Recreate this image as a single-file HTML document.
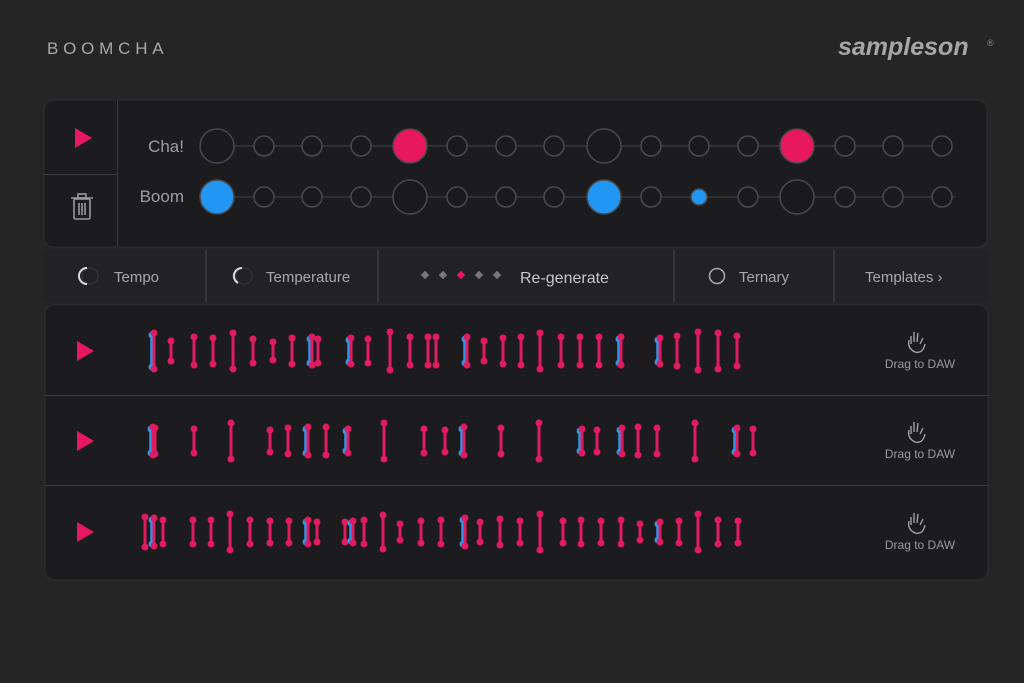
<!DOCTYPE html>
<html><head><meta charset="utf-8"><style>
html,body{margin:0;padding:0;background:#262526;width:1024px;height:683px;overflow:hidden}
svg{display:block}
text{font-family:"Liberation Sans",sans-serif}
</style></head><body>
<svg id="s" width="1024" height="683" xmlns="http://www.w3.org/2000/svg">
<rect width="1024" height="683" fill="#262526"/>
<text x="47" y="54" fill="#a8a8a8" font-size="17" letter-spacing="4.8">BOOMCHA</text>
<text x="838" y="55" fill="#a6a6a6" font-size="25" font-weight="bold" font-style="italic">sampleson</text>
<text x="987" y="46" fill="#888" font-size="9">®</text>
<!-- top panel -->
<rect x="44" y="100" width="943" height="147" rx="9" fill="#1c1c1e" stroke="#2e2e30"/>
<line x1="117.5" y1="100" x2="117.5" y2="247" stroke="#3a3a3c"/>
<line x1="44" y1="174.5" x2="117" y2="174.5" stroke="#3a3a3c"/>
<polygon points="75,128 92,138 75,148" fill="#e8185f"/>
<g stroke="#9a9a9a" stroke-width="1.6" fill="none">
<rect x="74" y="199" width="16" height="20" rx="1.5"/><line x1="71" y1="198" x2="93" y2="198"/><rect x="78" y="194" width="8" height="4"/>
<line x1="79" y1="203" x2="79" y2="215"/><line x1="82" y1="203" x2="82" y2="215"/><line x1="85" y1="203" x2="85" y2="215"/></g>
<text x="184" y="152" fill="#9e9e9e" font-size="17" text-anchor="end">Cha!</text>
<text x="184" y="202" fill="#9e9e9e" font-size="17" text-anchor="end">Boom</text>
<line x1="217" y1="146" x2="942" y2="146" stroke="#444"/>
<line x1="217" y1="197" x2="955" y2="197" stroke="#444"/>
<g id="dots"></g>
<!-- controls -->
<rect x="44" y="250" width="944" height="52" fill="#222123"/>
<g stroke="#333335" stroke-width="2"><line x1="206" y1="250" x2="206" y2="302"/><line x1="378" y1="250" x2="378" y2="302"/><line x1="674" y1="250" x2="674" y2="302"/><line x1="834" y1="250" x2="834" y2="302"/></g>
<circle cx="90" cy="276" r="8" fill="none" stroke="#2f2f31" stroke-width="2"/>
<path d="M87 268 A8 8 0 0 0 87 284" fill="none" stroke="#ddd" stroke-width="2"/>
<text x="114" y="282" fill="#a8a8a8" font-size="15">Tempo</text>
<circle cx="244" cy="276" r="8" fill="none" stroke="#2f2f31" stroke-width="2"/>
<path d="M242 268 A8 8 0 0 0 238 283" fill="none" stroke="#ddd" stroke-width="2"/>
<text x="266" y="282" fill="#a8a8a8" font-size="15">Temperature</text>
<g fill="#777"><rect x="422" y="272" width="6" height="6" transform="rotate(45 425 275)"/><rect x="440" y="272" width="6" height="6" transform="rotate(45 443 275)"/><rect x="458" y="272" width="6" height="6" fill="#e8185f" transform="rotate(45 461 275)"/><rect x="476" y="272" width="6" height="6" transform="rotate(45 479 275)"/><rect x="494" y="272" width="6" height="6" transform="rotate(45 497 275)"/></g>
<text x="520" y="283" fill="#c8c8c8" font-size="16">Re-generate</text>
<circle cx="717" cy="276" r="7.5" fill="none" stroke="#aaa" stroke-width="1.5"/>
<text x="739" y="282" fill="#a8a8a8" font-size="15">Ternary</text>
<text x="865" y="282" fill="#a8a8a8" font-size="15">Templates ›</text>
<!-- bottom panel -->
<rect x="45" y="305" width="943" height="275" rx="9" fill="#1c1c1e" stroke="#2e2e30"/>
<line x1="45" y1="395.5" x2="988" y2="395.5" stroke="#3a3a3c"/>
<line x1="45" y1="485.5" x2="988" y2="485.5" stroke="#3a3a3c"/>
<g id="bars"></g>
</svg>
<script>
var NS="http://www.w3.org/2000/svg",s=document.getElementById('s');
function el(t,a,p){var e=document.createElementNS(NS,t);for(var k in a)e.setAttribute(k,a[k]);(p||s).appendChild(e);return e;}
var xs=[217,264,312,361,410,457,506,554,604,651,699,748,797,845,893,942];
var D=document.getElementById('dots');
var cha={4:'p',12:'p'},boom={0:'b',8:'b'};
xs.forEach(function(x,i){
 var big=i%4==0;
 var c=cha[i];el('circle',{cx:x,cy:146,r:big?17:10,fill:c?'#e8185f':'#1a1a1c',stroke:'#4a4a4a','stroke-width':1.5},D);
 var b=boom[i];
 if(i==10)el('circle',{cx:x,cy:197,r:8,fill:'#2196f3',stroke:'#4a4a4a','stroke-width':1.5},D);
 else el('circle',{cx:x,cy:197,r:big?17:10,fill:b?'#2196f3':'#1a1a1c',stroke:'#4a4a4a','stroke-width':1.5},D);
});
var B=document.getElementById('bars');
[351,441,532].forEach(function(cy,r){
 el('polygon',{points:'77,'+(cy-10)+' 94,'+cy+' 77,'+(cy+10),fill:'#e8185f'},B);
 var hx=917,hy=cy-13;
 el('path',{d:'M'+(hx-6)+' '+(hy+6)+' l0 -8 M'+(hx-3)+' '+(hy+4)+' l0 -10 M'+hx+' '+(hy+4)+' l1 -9 M'+(hx+3)+' '+(hy+6)+' l3 -6 M'+(hx-8)+' '+(hy+2)+' q-2 8 6 12 q8 2 10 -8',fill:'none',stroke:'#aaa','stroke-width':1.3},B);
 el('text',{x:920,y:cy+17,fill:'#9a9a9a','font-size':12,'text-anchor':'middle'},B).textContent='Drag to DAW';
});
var rows=[
[351,[[152,36,1],[171,20],[194,28],[213,26],[233,36],[253,24],[273,18],[292,26],[310,28,1],[318,24],[349,26,1],[368,24],[390,38],[410,28],[428,28],[436,28],[465,28,1],[484,20],[503,26],[521,28],[540,36],[561,28],[580,28],[599,28],[619,28,1],[658,26,1],[677,30],[698,38],[718,36],[737,30]]],
[441,[[151,28,1],[155,26],[194,24],[231,36],[270,22],[288,26],[306,28,1],[326,28],[346,24,1],[384,36],[424,24],[445,22],[462,28,1],[501,26],[539,36],[580,24,1],[597,22],[620,26,1],[638,28],[657,26],[695,36],[735,26,1],[753,24]]],
[532,[[145,30],[152,28,1],[163,24],[193,24],[211,24],[230,36],[250,24],[270,22],[289,22],[306,24,1],[317,20],[345,20],[351,22,1],[364,24],[383,34],[400,16],[421,22],[441,24],[463,28,1],[480,20],[500,26],[520,22],[540,36],[563,22],[581,24],[601,22],[621,24],[640,16],[658,20,1],[679,22],[698,36],[718,24],[738,22]]]];
rows.forEach(function(rw){var cy=rw[0];rw[1].forEach(function(b){
 var x=b[0],h=b[1],y1=cy-h/2,y2=cy+h/2;
 if(b[2]){el('line',{x1:x,y1:y1+2,x2:x,y2:y2-2,stroke:'#2f95e8','stroke-width':3.5},B);
  el('circle',{cx:x,cy:y1+2,r:3.5,fill:'#2f95e8'},B);el('circle',{cx:x,cy:y2-2,r:3.5,fill:'#2f95e8'},B);x+=2;}
 el('line',{x1:x,y1:y1,x2:x,y2:y2,stroke:'#e01b60','stroke-width':3},B);
 el('circle',{cx:x,cy:y1,r:3.5,fill:'#e01b60'},B);el('circle',{cx:x,cy:y2,r:3.5,fill:'#e01b60'},B);
});});
</script>
</body></html>
